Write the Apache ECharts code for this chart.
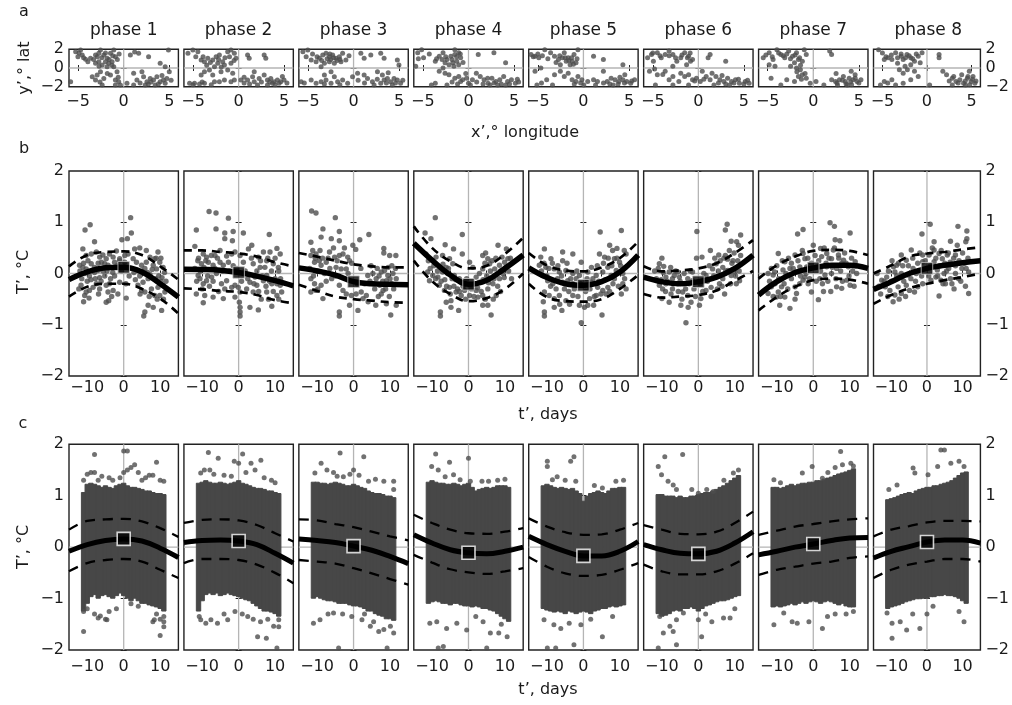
<!DOCTYPE html>
<html>
<head>
<meta charset="utf-8">
<script src="https://cdn.jsdelivr.net/npm/echarts@6/dist/echarts.min.js"></script>
<style>html,body{margin:0;padding:0;background:#fff}#chart{width:1012px;height:705px}</style>
</head>
<body>
<div id="chart"></div>
<script>
// ---------- data ----------
const phases = ['phase 1','phase 2','phase 3','phase 4','phase 5','phase 6','phase 7','phase 8'];

// tick values
const lonTicks = [-5, 0, 5];
const latTicks = [-2, 0, 2];
const dayLabels = [-10, 0, 10];
const dayTicks = [-10, -5, 0, 5, 10];
const tempTicks = [-2, -1, 0, 1, 2];

// (a) event locations, [x' deg lon, y' deg lat]
const aPoints = [
  [[-5.27,1.75],[-4.73,1.93],[-5.02,1.21],[-4.55,1.39],[-4.18,0.93],[-3.93,0.68],[-3.64,1.04],[-3.09,1.39],[-2.73,1.57],[-2.55,1.93],[-2.18,1.39],[-1.82,1.04],[-1.45,1.57],[-1.09,1.93],[-0.91,1.21],[-1.27,0.68],[-1.64,0.5],[-2,0.68],[-2.36,0.32],[-2.73,0.68],[-3.09,0.5],[-1.82,0.14],[-1.09,0.14],[-0.73,-0.39],[-2.55,-0.39],[-2.91,-0.75],[-3.45,-0.93],[-3.09,-1.29],[-2.18,-1.11],[-1.45,-0.75],[-0.91,-1.29],[-0.55,-1.46],[-0.36,-1.82],[-0.91,-1.82],[-2.36,-1.82],[-5.82,-1.46],[0.73,1.39],[1.64,1.57],[2.73,1.21],[4,0.5],[4.55,0.14],[2,-0.39],[1.09,-0.57],[1.45,-1.29],[2.18,-0.93],[2.55,-1.46],[2.91,-1.11],[3.27,-1.29],[3.64,-0.93],[4,-1.46],[4.36,-1.29],[4.73,-1.11],[4.55,-1.64],[3.45,-1.82],[2.36,-1.82],[1.09,-1.82],[0.36,-1.64],[4.91,1.93],
   [-4.9,1.6],[-4.4,1.1],[-3.3,0.9],[-2.9,1.2],[-2.4,1.1],[-2,1.6],[-1.6,0.9],[-1.2,1.3],[-0.7,0.9],[-0.5,1.5],[-2.7,0.2],[-1.3,0.3],[-1.8,-0.6],[-0.6,-1.0],[-2.6,-1.5],[3.0,-1.5],[3.8,-1.7],[4.2,-0.8],[2.7,-1.7],[1.8,-1.6],[5.2,-1.3],[5.0,-0.4],[1.2,1.7]],
  [[-5.56,1.57],[-5.02,1.93],[-4.47,1.75],[-4.11,0.86],[-3.75,0.68],[-3.38,1.04],[-2.84,0.86],[-2.47,1.21],[-2.11,1.39],[-1.75,0.68],[-1.2,1.75],[-0.84,1.93],[-0.47,1.57],[-0.29,1.04],[-0.84,0.5],[-1.56,0.32],[-2.29,0.5],[-2.65,0.14],[-3.2,-0.21],[-3.75,-0.39],[-4.11,-0.75],[-2.84,-0.75],[-1.93,-0.39],[-1.2,-0.21],[-0.65,-0.57],[-0.47,-1.29],[-0.84,-1.46],[0.98,1.39],[1.16,1.04],[2.8,1.39],[2.98,1.04],[-5.38,-1.64],[-4.84,-1.64],[-4.29,-1.71],[-3.75,-1.64],[-2.65,-1.46],[-2.11,-1.46],[-1.56,-1.29],[0.25,-1.29],[0.98,-1.29],[1.53,-0.93],[1.71,-1.46],[2.25,-1.11],[2.8,-0.75],[3.16,-1.29],[3.53,-1.11],[3.89,-1.46],[4.25,-1.29],[4.62,-1.46],[4.98,-1.29],[4.44,-1.64],[3.71,-1.64],[3.16,-1.82],[2.07,-1.82],[1.71,-0.39],
   [-4.7,1.2],[-3.9,1.2],[-3.1,0.6],[-2.2,0.9],[-1.5,1.1],[-1,1.2],[-0.5,0.8],[-1.9,0.1],[-3.5,0.3],[-5,-1.8],[-4,-1.5],[-3,-1.8],[0.6,-1.6],[1.2,-1.7],[2.5,-1.5],[3.4,-1.5],[4,-1.8],[5.3,-1.6],[4.8,-0.9],[0.6,-1.0]],
  [[-5.56,1.75],[-5.02,1.93],[-5.2,1.21],[-4.65,0.86],[-4.11,0.68],[-3.75,1.04],[-3.38,1.39],[-3.02,1.57],[-2.65,1.21],[-2.29,1.39],[-1.93,1.04],[-1.56,1.21],[-1.2,1.57],[-1.38,0.68],[-2.11,0.5],[-2.65,0.68],[-3.2,0.5],[-3.56,0.14],[-0.84,0.86],[0.8,1.57],[1.16,1.04],[1.89,1.39],[2.98,1.57],[3.35,1.04],[4.8,0.86],[4.98,0.32],[-5.75,-1.46],[-4.65,-1.29],[-4.11,-1.64],[-3.56,-1.46],[-3.02,-1.29],[-2.47,-1.64],[-2.11,-0.93],[-1.75,-1.46],[-1.2,-1.29],[-0.65,-1.64],[-0.11,-0.93],[0.44,-0.57],[1.16,-0.75],[1.53,-1.11],[2.07,-1.46],[2.62,-0.39],[3.16,-0.75],[3.35,-1.29],[3.71,-1.11],[4.07,-1.46],[4.44,-1.11],[4.8,-1.29],[5.16,-1.64],[4.25,-1.82],[2.98,-1.64],[2.25,-1.82],[-2.47,-0.39],[-3.2,-0.75],
   [-4.5,1.5],[-4,1.2],[-3.5,0.8],[-2.9,1.0],[-2.5,0.9],[-2.2,1.1],[-1.8,0.8],[-1.5,0.9],[-2.6,1.5],[-0.5,1.3],[-5.4,-1.6],[-3.2,-1.7],[-1.5,-1.8],[0.5,-1.3],[1.2,-1.6],[2.6,-1.2],[3.6,-1.6],[4.6,-1.6],[5.4,-1.3],[3.8,-0.5]],
  [[-5.57,1.64],[-5.14,1.95],[-4.93,1.09],[-3.64,0.73],[-3.21,1.27],[-2.79,1.64],[-2.36,0.91],[-1.93,1.27],[-1.5,1.45],[-1.07,1.64],[-0.86,1.09],[-1.29,0.73],[-1.71,0.55],[-2.14,0.36],[-2.57,0.55],[-1.07,0.36],[-1.5,1.95],[1.07,1.45],[2.79,1.64],[4.07,0.55],[-5.79,0.18],[-3.21,-0.36],[-2.57,-0.55],[-2.14,-0.73],[-1.5,-1.09],[-1.07,-0.91],[-0.86,-1.45],[-0.64,-1.27],[-0.21,-1.09],[0,-1.64],[0.43,-1.27],[0.86,-0.55],[1.29,-0.91],[1.71,-1.27],[2.14,-1.64],[2.57,-1.09],[3,-1.45],[3.43,-1.27],[3.86,-0.91],[4.29,-1.45],[4.71,-1.27],[5.14,-1.64],[5.36,-1.2],[4.07,-1.82],[3.21,-1.82],[2.36,-1.82],[0.21,-1.82],[-2.36,-1.82],[-3.64,-1.64],[-4.07,-1.82],[-2.79,0],
   [-4.3,1.5],[-3.5,1.0],[-2.9,0.9],[-2.5,1.2],[-1.8,0.9],[-1.3,1.2],[-0.9,1.5],[-0.6,0.6],[-1.6,0.2],[-5.5,1.0],[-1.8,-1.5],[-1.2,-1.7],[-0.3,-0.6],[0.9,-1.5],[1.6,-1.7],[2.8,-1.6],[3.6,-1.7],[4.5,-1.7],[5.5,-1.5],[2.1,-1.1]],
  [[-5.74,1.45],[-5.31,1.27],[-4.89,1.09],[-4.24,1.95],[-3.6,1.64],[-3.17,1.27],[-2.74,0.91],[-2.31,1.09],[-2.1,1.64],[-1.67,1.09],[-1.24,0.73],[-1.03,1.45],[-0.6,1.95],[-0.81,0.55],[-1.46,0.36],[-1.89,0.73],[-2.53,0.36],[1.11,1.27],[2.19,0.91],[4.33,0.36],[-5.31,-0.36],[-4.67,0],[-4.03,-1.27],[-3.17,-0.73],[-2.53,-0.36],[-2.1,-0.91],[-1.67,-0.55],[-1.24,-1.27],[-0.81,-1.45],[-0.6,-0.91],[-0.17,-1.27],[0.47,-1.45],[1.11,-1.27],[1.54,-1.45],[2.19,-0.36],[2.61,-1.45],[3.04,-1.09],[3.47,-1.27],[3.9,-1.45],[4.33,-1.27],[4.76,-1.45],[5.19,-1.64],[5.61,-1.27],[3.26,-1.82],[1.33,-1.82],[0.04,-1.82],[-5.1,-1.82],[-3.39,-1.82],[4.54,-0.73],
   [-5.5,1.2],[-5,1.5],[-4.5,1.3],[-3.9,1.0],[-2.6,1.3],[-2.0,1.1],[-1.6,0.8],[-1.3,1.1],[-1.1,0.4],[-0.7,1.0],[-3,0.6],[-4.6,-1.6],[-1,-1.7],[-0.3,-1.6],[2.2,-1.6],[2.9,-1.7],[3.8,-1.7],[4.5,-1.6],[5.3,-1.4],[4.0,-1.0]],
  [[-5.57,1.09],[-5.14,1.45],[-4.93,0.73],[-4.5,1.64],[-4.07,1.09],[-3.64,1.45],[-3.21,1.82],[-2.79,1.45],[-2.36,0.73],[-1.93,1.09],[-1.5,1.64],[-1.07,1.27],[-0.86,0.73],[-1.29,0.36],[-0.64,0.91],[1.07,1.09],[1.29,1.45],[3,0.73],[-5.36,-0.36],[-4.5,-0.73],[-3.64,-0.36],[-3.21,-1.27],[-2.79,-0.91],[-2.14,-1.45],[-1.93,-0.55],[-1.07,-0.73],[-0.64,-1.27],[-0.21,-1.09],[0.21,-1.45],[0.86,-0.91],[1.29,-1.27],[1.5,-0.55],[1.93,-0.91],[2.36,-1.27],[2.79,-1.45],[3.21,-1.09],[3.64,-1.45],[4.07,-1.27],[4.5,-1.64],[5.14,-1.45],[5.57,-1.64],[3.43,-1.82],[1.71,-1.82],[-1.07,-1.82],[-2.79,-1.82],[-4.71,-1.82],[0.43,-0.36],
   [-5,1.6],[-4.2,1.3],[-3.2,1.3],[-2.5,1.1],[-1.8,1.4],[-1.2,1.1],[-0.9,1.6],[-2.8,0.2],[-4.8,-0.1],[-3.9,-0.7],[-1.5,-0.9],[-0.4,-1.4],[0.6,-1.2],[2.2,-1.6],[3,-1.7],[3.9,-1.6],[4.4,-1.2],[5,-1.7],[5.4,-1.3],[2.6,-0.8]],
  [[-5.49,1.09],[-4.84,1.64],[-4.41,0.91],[-3.99,1.95],[-3.56,1.45],[-3.13,1.09],[-2.7,1.82],[-2.27,1.27],[-1.84,1.64],[-1.63,0.91],[-2.06,0.55],[-2.49,0.18],[-1.84,0],[-1.41,-0.18],[-0.99,1.95],[-0.77,1.45],[-1.2,0.73],[1.8,1.82],[2.01,1.45],[-1.2,-0.73],[-0.77,-1.09],[-1.63,-0.91],[-2.06,-1.45],[-2.91,-1.27],[-3.56,-1.82],[-4.63,-1.09],[-0.34,-1.64],[0.3,-1.45],[2.01,-1.27],[2.44,-1.45],[2.87,-1.27],[3.3,-0.91],[3.51,-1.45],[3.94,-1.09],[4.16,-0.36],[4.37,-1.27],[4.59,-0.73],[4.8,-1.45],[5.23,-1.27],[3.73,-1.82],[2.66,-1.82],[1.16,-1.82],[-4.2,0.18],[-4.84,0.36],
   [-5.2,1.4],[-4.5,1.2],[-3.8,1.6],[-3.3,1.3],[-2.9,1.5],[-2.5,1.0],[-2.0,1.4],[-1.5,1.1],[-1.4,0.3],[-1.8,-0.4],[-0.9,-0.6],[-1.3,-1.2],[2.6,-1.6],[3.2,-1.3],[3.6,-1.7],[4.1,-1.5],[4.6,-1.1],[5.0,-1.6],[4.2,-1.8],[2.5,-0.6]],
  [[-5.43,1.95],[-4.79,0.91],[-4.37,1.09],[-3.94,0.91],[-3.52,1.64],[-2.88,1.27],[-2.67,0.91],[-2.25,1.45],[-1.82,1.09],[-1.4,0.73],[-0.98,1.27],[-0.55,1.64],[-0.76,0.55],[-1.82,0.36],[-2.46,0.18],[-3.1,-0.18],[-2.67,-0.55],[-1.4,-0.36],[1.36,1.45],[1.36,1.09],[-4.79,-1.45],[-3.94,-1.27],[-2.67,-1.64],[-1.82,-1.27],[-0.98,-0.91],[1.78,-0.36],[2.2,-0.73],[2.84,-1.09],[3.26,-1.45],[3.69,-1.27],[3.9,-0.73],[4.11,-1.64],[4.54,-1.09],[4.75,-0.36],[4.96,-1.45],[5.17,-0.91],[5.38,-1.64],[4.32,-1.82],[2.84,-1.82],[0.3,-1.82],[-5.22,-1.82],[-3.52,-1.82],
   [-5,1.6],[-4.6,1.2],[-4,1.4],[-3.3,1.1],[-2.9,1.5],[-2.4,1.1],[-2,1.3],[-1.6,1.0],[-1.2,1.5],[-3.3,0.5],[-2.2,-0.2],[-4.4,-1.6],[2.5,-1.4],[3,-0.9],[3.5,-1.6],[4.3,-1.4],[4.6,-0.9],[5.1,-1.2],[5.5,-1.4],[4.8,-1.8]]
];

// (b) single-site anomalies, [t' days, T' degC]
const bPoints = [
  [[-9.2,0.95],[-10.6,0.85],[-8,0.62],[1.9,1.09],[2.1,0.79],[1,0.68],[-0.5,0.66],[-11.2,0.48],[-10.3,0.35],[-8.9,0.38],[-7.5,0.42],[-6.6,0.32],[-5.7,0.36],[-4.8,0.29],[-3.9,0.38],[-2.9,0.32],[-2,0.44],[-1.1,0.29],[0.3,0.35],[1.2,0.38],[2.6,0.29],[3,0.48],[4.4,0.5],[6.2,0.45],[7.2,0.32],[8.5,0.29],[9.4,0.42],[9.9,0.22],[10.8,0.12],[9,0.09],[6.2,0.22],[4.9,0.16],[3.9,0.06],[3.5,0.22],[8.1,0.16],[-12.1,0.16],[-11.2,0.12],[-10.3,0.09],[-8.9,0.19],[-8,0.12],[-7.1,0.06],[-6.1,0.22],[-5.2,0.19],[-4.3,0.16],[-3.4,0.12],[-2.5,0.22],[-1.1,0.25],[0.3,0.22],[-11.7,-0.23],[-10.3,-0.36],[-10.7,-0.43],[-9.4,-0.33],[-8.4,-0.27],[-7.5,-0.2],[-6.6,-0.3],[-4.8,-0.23],[-3.9,-0.2],[-4.3,-0.36],[-2.9,-0.33],[-1.6,-0.4],[-4.8,-0.56],[-4.1,-0.53],[-1.1,-0.17],[0.6,-0.2],[0.7,-0.48],[3.9,-0.23],[4.9,-0.33],[5.8,-0.36],[5.3,-0.17],[6.7,-0.1],[7.6,-0.3],[8.5,-0.43],[9.4,-0.27],[9.9,-0.43],[10.8,-0.23],[11.3,-0.36],[11.7,-0.3],[6.7,-0.62],[8.1,-0.66],[5.8,-0.75],[5.5,-0.83],[10.4,-0.72],[-10.7,0.0],[-9.4,-0.05],[-8,0.02],[-6.6,-0.08],[-5.7,0.05],[-2.5,-0.05],[2.1,0.1],[4.4,-0.05],[7.2,-0.02],[8.8,-0.1],[10.2,-0.15],
   [-12,0.05],[-11.5,-0.1],[-11,0.2],[-10,-0.15],[-9.8,0.25],[-9,-0.12],[-8.5,0.05],[-7.8,-0.1],[-7,0.2],[-6.2,-0.15],[-5.2,-0.05],[-4.6,0.05],[-3.6,-0.1],[-3,0.02],[-1.8,0.15],[-0.6,0.05],[1.5,-0.05],[2.8,0.02],[3.2,-0.12],[5,0.05],[5.8,0.1],[6.5,0.02],[7.8,0.08],[9.6,-0.05],[10.5,-0.08],[11.2,0.02],[11.6,-0.15],[8.9,0.3],[10.2,0.3],[-12.3,-0.3],[-11,-0.55],[-9.5,-0.48],[-6.9,-0.4],[-3.3,-0.45],[9.2,-0.5],[10.9,-0.5],[7,-0.45],[4.5,-0.4]],
  [[-8.1,1.21],[-6.2,1.18],[-2.8,1.08],[-11.6,0.85],[-6.2,0.87],[-3.8,0.79],[-1.5,0.82],[1.3,0.79],[-1.7,0.64],[-3.8,0.68],[8.4,0.76],[-12,0.53],[-9.7,0.38],[-8.8,0.32],[-6.5,0.35],[-5.1,0.45],[-3.3,0.34],[-1.9,0.38],[-1,0.42],[0.4,0.35],[2.7,0.48],[3.6,0.55],[6.8,0.42],[8.6,0.42],[10.5,0.49],[11.4,0.38],[5.4,0.32],[7.7,0.25],[-11.2,0.25],[-10.2,0.19],[-8.3,0.22],[-7,0.16],[-5.1,0.22],[-4.2,0.16],[-2.8,0.22],[1.3,0.22],[4,0.19],[5.9,0.12],[9.5,0.19],[10.9,0.12],[-11.1,-0.04],[-10.6,-0.1],[-9.7,-0.2],[-8.8,-0.14],[-7.4,-0.07],[-6.1,0],[-4.7,-0.2],[-3.3,-0.14],[-1.9,-0.27],[-1,-0.23],[-0.1,-0.27],[0.4,-0.36],[2.2,-0.3],[3.1,-0.17],[4.5,-0.07],[5,-0.23],[6.8,-0.14],[7.7,-0.04],[9.1,-0.2],[10,-0.1],[11.4,-0.23],[11.8,-0.36],[10.5,-0.43],[-9.3,-0.43],[-9.7,-0.57],[-11.6,-0.4],[-7,-0.46],[-4.2,-0.49],[-1,-0.46],[0.2,-0.56],[0.4,-0.66],[0.4,-0.75],[0.4,-0.83],[3.1,-0.66],[5.4,-0.71],[9.1,-0.64],[7.7,-0.36],[4,-0.36],
   [-12,0.1],[-11.5,-0.15],[-11,0.3],[-10.5,0.05],[-10,-0.3],[-9.5,0.12],[-9,0.25],[-8.5,-0.05],[-8,-0.25],[-7.5,0.35],[-7,-0.15],[-6.5,0.1],[-5.5,-0.35],[-5.8,0.3],[-4.5,0.05],[-3.8,-0.3],[-2.5,0.05],[-1.5,0.15],[-0.5,0.1],[0.8,-0.15],[1.8,0.05],[2.5,-0.1],[3.5,0.3],[4.2,-0.2],[5,0.05],[5.5,-0.35],[6,0.25],[6.5,-0.05],[7.2,0.12],[7.5,-0.25],[8,0.3],[8.5,-0.15],[9,0.05],[9.5,-0.35],[10,0.3],[10.5,-0.2],[11,0.05],[11.5,-0.1],[11,-0.5],[8.2,-0.5],[6.2,-0.5]],
  [[-11.5,1.22],[-10.3,1.18],[-5,1.09],[-8.4,0.87],[-3.9,0.82],[-8.9,0.71],[-6.1,0.68],[-3.9,0.64],[-11.7,0.61],[1.7,0.66],[4.2,0.76],[-0.2,0.55],[0.6,0.47],[8.3,0.49],[8.3,0.4],[9.9,0.35],[11.6,0.35],[-11.7,0.35],[-10.3,0.38],[-9.4,0.25],[-10.7,0.22],[-6.6,0.42],[-5.2,0.32],[-3.9,0.35],[-2.9,0.38],[-1.6,0.32],[-1.1,0.25],[-8.9,0.16],[-7.5,0.22],[-4.8,0.12],[-3.4,0.09],[-2,0.09],[3.9,-0.04],[5.3,0],[6.2,-0.1],[7.6,0.03],[8.5,0.06],[9.4,-0.04],[10.8,0],[11.7,-0.1],[10.4,-0.2],[9,-0.14],[7.2,-0.23],[5.3,-0.2],[-11.7,-0.1],[-10.7,-0.2],[-8.9,-0.23],[-11.7,-0.36],[-10.3,-0.33],[-8.4,-0.49],[-3.9,-0.23],[-2.9,-0.33],[-2,-0.4],[-0.6,-0.43],[-1.1,-0.62],[1.2,-0.72],[0.7,-0.4],[2.1,-0.36],[3.5,-0.43],[6.1,-0.62],[9,-0.59],[10.2,-0.81],[11.7,-0.62],[-3.9,-0.75],[-3.9,-0.83],[7.6,-0.4],[8.1,-0.33],[2.6,-0.49],
   [-12,0.1],[-11.2,0.45],[-11,-0.05],[-10.5,0.3],[-10,0.05],[-9.8,-0.3],[-9.2,0.45],[-8.5,0.3],[-8,0.0],[-7.5,-0.15],[-7,0.3],[-6.5,0.1],[-6,-0.1],[-5.5,0.5],[-5,-0.05],[-4.5,0.25],[-2.5,0.5],[-1.5,0.0],[-0.5,0.2],[1,-0.2],[2,0.1],[3,-0.2],[4.5,-0.15],[4.8,0.15],[5.8,-0.3],[6.5,0.1],[7,-0.05],[8,-0.15],[8.8,-0.3],[9.5,0.12],[10,-0.1],[10.5,0.15],[11,-0.3],[11.5,0.1],[6.8,-0.45],[9.8,-0.45],[4,-0.55]],
  [[-9.1,1.09],[-1.7,0.76],[-11.9,0.79],[-10.3,0.68],[-6.4,0.56],[-4.1,0.48],[-1.7,0.38],[-11.7,0.38],[-8.9,0.32],[-7.1,0.35],[-5.2,0.29],[-4.3,0.19],[-6.1,0.12],[-11.2,0.03],[-9.8,-0.04],[-10.7,-0.14],[-8.4,-0.07],[-7.1,0.03],[-5.7,0],[-3.9,-0.04],[-2.5,-0.1],[-8,-0.23],[-6.6,-0.33],[-5.2,-0.27],[-3.4,-0.36],[-2,-0.43],[-1.1,-0.33],[-4.8,-0.53],[-6.1,-0.56],[-2.7,-0.72],[-4.8,-0.66],[-7.7,-0.75],[-7.7,-0.83],[2.1,-0.07],[3,-0.17],[3.9,0.35],[4.7,0.4],[5.3,0.29],[5.8,0.19],[3.9,0.09],[7.2,0.09],[8.1,0.55],[10.4,0.48],[10.8,0.29],[9.4,0],[8.5,-0.1],[6.7,-0.2],[5.3,-0.3],[3.9,-0.43],[2.6,-0.46],[3.9,-0.62],[5.3,-0.62],[6.2,-0.81],[7.6,-0.43],[2.1,-0.33],[0.3,-0.43],[1.2,0.12],[0.3,0.22],[8.5,0.16],[9.9,0.22],
   [-11,0.25],[-10.5,0.1],[-9.5,0.15],[-9,-0.1],[-8.5,0.05],[-7.5,-0.15],[-7,0.18],[-6.5,-0.12],[-6,-0.25],[-5.5,0.1],[-5,-0.4],[-4.5,-0.1],[-4,-0.25],[-3.5,-0.12],[-3,-0.3],[-2.5,-0.35],[-1.5,-0.25],[-0.8,-0.5],[-0.5,-0.1],[0.8,-0.3],[1.5,-0.45],[1.8,-0.2],[2.5,-0.28],[3,0.0],[3.5,-0.35],[4,-0.12],[4.5,0.2],[5,-0.05],[5.5,-0.18],[6,0.05],[6.5,0.25],[7,-0.1],[7.5,0.3],[8,-0.25],[8.8,0.05],[9.2,0.32],[9.8,-0.08],[10.2,0.12],[11,0.05],[11.5,0.3],[11.8,-0.1],[6.8,-0.5],[4.6,-0.5],[8.8,-0.35]],
  [[4.6,0.81],[10.4,0.84],[7.2,0.55],[9.2,0.49],[-10.7,0.48],[-5.7,0.42],[-2.9,0.38],[-11.7,0.32],[-8.9,0.29],[-5.7,0.25],[-0.6,0.22],[4.4,0.38],[5.8,0.32],[8.5,0.29],[9.9,0.22],[11.7,0.38],[-12.1,0.16],[-10.3,0.12],[-8,0.09],[-6.6,0.03],[-4.8,0.06],[-2.9,0],[-1.1,-0.04],[1.2,0.03],[2.6,-0.1],[3.5,-0.04],[5.3,0.03],[6.7,0.12],[7.6,-0.04],[9,0.06],[10.8,0],[11.3,-0.1],[-11.2,-0.04],[-9.8,-0.14],[-8.4,-0.2],[-7.1,-0.1],[-5.7,-0.17],[-4.3,-0.14],[-2.9,-0.2],[-2,-0.1],[2.1,-0.17],[3.9,-0.27],[5.3,-0.33],[6.7,-0.27],[8.1,-0.2],[10.4,-0.4],[11.7,-0.3],[-10.7,-0.36],[-9.4,-0.43],[-8,-0.49],[-6.6,-0.43],[-4.8,-0.53],[-2.9,-0.43],[-1.1,-0.62],[0.3,-0.66],[1.7,-0.49],[2.8,-0.62],[-8,-0.66],[-5.9,-0.72],[-10.7,-0.75],[-10.7,-0.83],[5.1,-0.81],[-0.6,-0.96],[6.2,-0.4],[3.5,-0.43],
   [-11.5,0.05],[-10.8,0.2],[-10,-0.05],[-9.5,0.1],[-9,-0.25],[-8.5,0.2],[-7.5,-0.3],[-7,0.15],[-6,-0.05],[-5.2,-0.3],[-4.5,0.2],[-4,-0.35],[-3.5,-0.1],[-2.5,-0.3],[-1.8,0.05],[-1.5,-0.45],[-0.8,-0.2],[0.6,-0.35],[1,-0.1],[1.8,-0.3],[2.2,0.12],[3,-0.45],[3.8,0.15],[4.2,-0.15],[4.8,-0.4],[5.5,0.2],[6,-0.12],[6.8,0.3],[7.2,-0.35],[7.8,0.15],[8.5,-0.1],[9.2,0.3],[9.6,-0.25],[10.2,0.15],[10.8,-0.2],[11.5,0.12],[11.2,0.45],[8,0.45],[-11,-0.55],[-6.5,-0.6],[-3.8,-0.6],[1.2,-0.62]],
  [[-0.4,0.82],[7.9,0.96],[7.4,0.85],[11.6,0.75],[9,0.63],[1,0.32],[5.6,0.36],[7.4,0.35],[11,0.55],[-10.7,0.19],[-9.5,0.14],[-8,0.03],[-6.6,-0.04],[-5.2,-0.07],[-3.9,0],[-2.9,-0.1],[-1.6,-0.14],[2.1,-0.04],[3.9,0.09],[4.9,0.19],[6.7,0.12],[8.1,0.06],[9,-0.04],[10,0.03],[11.3,-0.14],[10.4,-0.2],[-10.7,-0.23],[-9.8,-0.3],[-8.9,-0.2],[-7.1,-0.3],[-5.7,-0.2],[-4.3,-0.36],[-2.9,-0.43],[-2,-0.56],[-2.8,-0.66],[0.3,-0.62],[0.7,-0.49],[2.1,-0.33],[3.5,-0.27],[5.8,-0.2],[7.2,-0.4],[-3.4,-0.96],[-4.8,-0.62],[-8,-0.56],[-10,-0.49],[6.7,-0.1],[9.5,0.25],[-7.1,-0.1],[-8.9,-0.07],[-5.7,0.03],[-1.6,0.03],
   [-12,0.05],[-11.5,-0.1],[-11,0.1],[-10.2,-0.12],[-9.6,0.02],[-9,-0.35],[-8.5,-0.15],[-7.6,0.12],[-7.5,-0.4],[-6.8,-0.2],[-6.2,0.05],[-5.5,-0.35],[-5,-0.15],[-4.5,-0.5],[-4,-0.2],[-3.5,-0.3],[-2.5,-0.2],[-2.2,0.05],[-1.2,-0.3],[-0.8,-0.45],[0.5,-0.2],[1.2,-0.35],[1.5,0.0],[2.5,-0.15],[3,0.15],[3.5,-0.45],[4.2,-0.05],[4.5,0.3],[5.2,-0.3],[5.5,0.05],[6,0.25],[6.5,-0.25],[7,0.3],[7.5,0.05],[8,0.28],[8.5,0.45],[8.8,-0.2],[9.2,0.2],[9.8,0.4],[10.2,-0.05],[10.8,0.25],[11.2,0.05],[11.6,0.35],[10.5,0.62],[3.3,0.45],[-0.5,0.3],[-10,0.3]],
  [[-2.8,0.86],[-4.3,0.77],[0,0.55],[2,0.49],[4.6,0.99],[5.8,0.92],[10.1,0.79],[6,0.66],[7.3,0.64],[-9.6,0.39],[-7.8,0.23],[-6,0.2],[-5,0.36],[-2.8,0.39],[-2.3,0.29],[-3.7,0.13],[-1.8,0.13],[2.3,0.33],[3.7,0.39],[5,0.29],[5.5,0.46],[6.9,0.36],[8.3,0.26],[9.6,0.13],[11.5,0.23],[11.9,0],[3.7,0.13],[6.4,0.1],[7.8,0.2],[-12.4,0],[-11,-0.03],[-10.6,0.03],[-8.3,0.07],[-6.4,0.1],[-4.6,0.03],[-2.3,-0.07],[-1.4,-0.2],[-0.5,-0.36],[1.4,-0.51],[1.8,-0.1],[3.2,-0.03],[5,0],[6.4,-0.26],[7.8,-0.29],[9.2,-0.13],[10.1,-0.23],[-12.4,-0.39],[-11.5,-0.26],[-9.6,-0.36],[-8.7,-0.26],[-10.1,-0.46],[-9.2,-0.62],[-7.8,-0.46],[-6.4,-0.68],[-5,-0.26],[-3.7,-0.2],[-2.8,-0.13],[-4.6,-0.39],
   [-12,-0.15],[-11.5,0.1],[-11,-0.45],[-10.5,-0.2],[-10,0.15],[-9.5,-0.1],[-9,-0.45],[-8.5,0.25],[-8,-0.2],[-7.5,0.0],[-7,-0.3],[-6.8,0.3],[-6,-0.1],[-5.5,0.1],[-5,-0.5],[-4.2,0.25],[-3.5,-0.05],[-3,0.45],[-2,0.0],[-1.5,0.3],[-1,-0.1],[-0.5,0.2],[0.5,0.35],[0.8,-0.15],[1.5,0.25],[2,0.05],[2.5,-0.2],[3,0.5],[3.5,0.2],[4,-0.15],[4.3,0.3],[5.2,0.12],[5.8,0.5],[6.2,-0.1],[7,0.3],[7.5,0.05],[8,-0.15],[8.6,0.4],[9,0.2],[9.8,-0.05],[10.5,0.3],[10.8,0.05],[11.2,-0.25],[11.6,0.15],[4.8,-0.35],[2.8,-0.35]],
  [[0.9,0.96],[-1.4,0.77],[2,0.62],[8.7,0.92],[11.2,0.83],[11.2,0.68],[10.9,0.62],[6.6,0.63],[8,0.36],[-9.4,0.13],[-8.5,0.16],[-7.2,0.36],[-4.4,0.46],[-5.8,0.26],[-3.9,0.1],[-2.6,0.2],[-1.2,0.36],[-1.2,0.23],[2,0.46],[3.4,0.39],[4.3,0.29],[5.7,0.36],[2,0.23],[0.6,0.36],[2.9,0.07],[4.8,0],[6.1,0.1],[8,0],[8.9,-0.1],[9.8,0.1],[11.7,0.03],[11.7,-0.39],[-14,0],[-12.7,-0.13],[-11.3,-0.07],[-11.7,-0.26],[-10.4,-0.33],[-9,-0.42],[-8.1,-0.26],[-7.2,-0.39],[-5.8,-0.23],[-4.9,-0.33],[-3.5,-0.36],[-2.6,-0.26],[-1.2,-0.2],[1.1,-0.13],[2.5,-0.07],[3.9,-0.13],[5.2,-0.2],[6.6,-0.1],[3.4,-0.44],[-7.2,0],[-5.3,-0.03],[-3,0],[-9,0.03],
   [-13.5,-0.25],[-13,-0.4],[-12,-0.15],[-11,-0.45],[-10.8,0.05],[-10,-0.15],[-9.5,-0.55],[-9.8,0.25],[-8.5,-0.05],[-8,0.2],[-7.8,-0.5],[-6.8,0.15],[-6.5,-0.15],[-6,-0.45],[-5.2,0.15],[-4.5,-0.1],[-4,0.3],[-3.2,-0.15],[-2.2,0.05],[-2,0.4],[-1.5,-0.05],[-0.5,0.25],[0.5,-0.05],[1,0.15],[1.5,0.5],[2.5,0.3],[3,-0.05],[3.5,0.15],[4,0.45],[4.5,-0.2],[5,0.2],[5.5,0.05],[6,0.4],[6.5,0.22],[7,-0.2],[7.5,0.3],[8,0.15],[8.5,0.55],[9,0.25],[9.5,-0.15],[10,0.4],[10.5,0.2],[11,0.1],[11.5,0.3],[10.8,-0.25],[7.6,-0.3]]
];

// fitted curves, sampled at fitDays
const fitDays = [-15, -10, -5, 0, 5, 10, 15];
const bFit = [
  [-0.12,0.03,0.11,0.12,0.03,-0.2,-0.46],
  [0.085,0.08,0.065,0.02,-0.05,-0.14,-0.24],
  [0.11,0.05,-0.03,-0.16,-0.2,-0.21,-0.22],
  [0.59,0.26,-0.03,-0.21,-0.13,0.1,0.36],
  [0.11,-0.08,-0.2,-0.23,-0.16,0.03,0.36],
  [-0.07,-0.16,-0.2,-0.16,-0.07,0.1,0.36],
  [-0.42,-0.16,0.02,0.11,0.16,0.16,0.1],
  [-0.31,-0.16,0,0.1,0.16,0.21,0.25]
];
const bUpper = [
  [0.14,0.36,0.42,0.43,0.36,0.14,-0.12],
  [0.45,0.45,0.42,0.39,0.33,0.22,0.14],
  [0.4,0.33,0.25,0.18,0.14,0.12,0.12],
  [0.92,0.5,0.24,0.1,0.15,0.38,0.7],
  [0.4,0.16,0.06,0.04,0.12,0.3,0.62],
  [0.14,0.04,0.06,0.1,0.2,0.4,0.65],
  [-0.1,0.16,0.33,0.44,0.46,0.44,0.36],
  [0,0.16,0.33,0.39,0.42,0.47,0.51]
];
const bLower = [
  [-0.45,-0.26,-0.2,-0.2,-0.3,-0.49,-0.78],
  [-0.29,-0.31,-0.34,-0.36,-0.42,-0.52,-0.58],
  [-0.22,-0.34,-0.45,-0.5,-0.53,-0.56,-0.57],
  [0.25,-0.15,-0.4,-0.54,-0.48,-0.3,0.0],
  [-0.2,-0.46,-0.54,-0.55,-0.5,-0.3,-0.03],
  [-0.4,-0.47,-0.45,-0.42,-0.33,-0.14,0.05],
  [-0.72,-0.46,-0.26,-0.13,-0.1,-0.12,-0.2],
  [-0.59,-0.42,-0.29,-0.2,-0.13,-0.07,0]
];
const cFit = [
  [-0.08,0.05,0.13,0.16,0.12,-0.02,-0.2],
  [0.09,0.13,0.14,0.12,0.05,-0.12,-0.31],
  [0.16,0.13,0.09,0.02,-0.06,-0.18,-0.32],
  [0.24,0.08,-0.05,-0.11,-0.13,-0.08,0],
  [0.21,0.05,-0.08,-0.17,-0.17,-0.08,0.11],
  [0.05,-0.05,-0.12,-0.13,-0.08,0.08,0.3],
  [-0.15,-0.08,0,0.06,0.13,0.18,0.19],
  [-0.21,-0.08,0.01,0.1,0.14,0.14,0.08]
];
const cUpper = [
  [0.34,0.51,0.54,0.55,0.5,0.37,0.2],
  [0.47,0.53,0.54,0.52,0.43,0.27,0.11],
  [0.54,0.52,0.45,0.39,0.3,0.21,0.13],
  [0.63,0.47,0.34,0.27,0.26,0.3,0.37],
  [0.56,0.4,0.29,0.24,0.25,0.34,0.47],
  [0.43,0.34,0.26,0.25,0.3,0.47,0.69],
  [0.24,0.32,0.4,0.45,0.5,0.54,0.56],
  [0.21,0.34,0.41,0.48,0.51,0.51,0.5]
];
const cLower = [
  [-0.47,-0.31,-0.25,-0.23,-0.28,-0.44,-0.6],
  [-0.31,-0.23,-0.23,-0.25,-0.34,-0.5,-0.7],
  [-0.25,-0.28,-0.32,-0.41,-0.51,-0.62,-0.73],
  [-0.15,-0.3,-0.43,-0.49,-0.52,-0.47,-0.41],
  [-0.19,-0.38,-0.51,-0.56,-0.54,-0.44,-0.31],
  [-0.34,-0.47,-0.53,-0.53,-0.47,-0.32,-0.12],
  [-0.54,-0.44,-0.38,-0.32,-0.28,-0.21,-0.18],
  [-0.6,-0.44,-0.34,-0.28,-0.23,-0.23,-0.28]
];

// (c) all-site anomalies: dense core per day (lowest / highest value) plus scattered extremes
const bandDays = [-11,-10,-9,-8,-7,-6,-5,-4,-3,-2,-1,0,1,2,3,4,5,6,7,8,9,10,11];
const cTop = [
  [1.02,1.18,1.2,1.18,1.15,1.12,1.15,1.12,1.1,1.15,1.18,1.2,1.15,1.12,1.12,1.1,1.08,1.05,1.05,1.02,1.0,1.0,0.98],
  [1.2,1.22,1.25,1.22,1.2,1.2,1.22,1.2,1.18,1.2,1.22,1.25,1.2,1.18,1.15,1.12,1.1,1.1,1.08,1.05,1.05,1.02,1.0],
  [1.22,1.22,1.2,1.2,1.18,1.2,1.22,1.2,1.18,1.15,1.15,1.18,1.15,1.12,1.1,1.05,1.02,1.0,1.0,0.98,0.95,0.95,0.92],
  [1.22,1.25,1.22,1.2,1.2,1.18,1.18,1.2,1.18,1.15,1.18,1.2,1.12,1.05,1.08,1.1,1.12,1.1,1.12,1.15,1.15,1.15,1.12],
  [1.15,1.18,1.15,1.12,1.1,1.12,1.1,1.08,1.1,1.05,1.0,0.85,0.95,1.0,1.02,1.05,1.02,1.0,1.05,1.1,1.1,1.12,1.12],
  [0.98,0.98,0.95,0.95,0.95,0.92,0.95,0.92,0.92,0.95,0.95,0.98,1.0,1.02,1.02,1.05,1.08,1.12,1.15,1.2,1.25,1.3,1.35],
  [1.12,1.12,1.1,1.12,1.15,1.18,1.15,1.18,1.2,1.2,1.22,1.22,1.25,1.25,1.28,1.3,1.32,1.35,1.38,1.4,1.42,1.45,1.48],
  [0.88,0.9,0.92,0.95,0.98,1.0,1.02,1.0,1.05,1.08,1.1,1.12,1.12,1.15,1.15,1.18,1.2,1.22,1.25,1.3,1.35,1.4,1.42]
];
const cBot = [
  [-1.2,-1.05,-0.92,-0.88,-0.95,-0.9,-0.88,-0.92,-0.95,-0.9,-0.85,-0.9,-0.95,-1.0,-0.95,-1.0,-1.05,-1.05,-1.08,-1.1,-1.12,-1.15,-1.2],
  [-1.2,-1.0,-0.88,-0.85,-0.88,-0.85,-0.9,-0.88,-0.85,-0.88,-0.9,-0.92,-0.95,-0.98,-1.0,-1.05,-1.1,-1.15,-1.2,-1.2,-1.22,-1.25,-1.3],
  [-0.95,-0.92,-0.95,-0.98,-1.0,-1.0,-1.02,-1.05,-1.05,-1.05,-1.08,-1.1,-1.1,-1.12,-1.15,-1.2,-1.2,-1.25,-1.28,-1.3,-1.35,-1.35,-1.38],
  [-1.05,-1.02,-1.0,-1.02,-1.05,-1.05,-1.08,-1.05,-1.05,-1.08,-1.1,-1.1,-1.12,-1.1,-1.12,-1.15,-1.15,-1.18,-1.2,-1.25,-1.3,-1.35,-1.4],
  [-1.15,-1.18,-1.2,-1.22,-1.2,-1.22,-1.25,-1.2,-1.22,-1.25,-1.22,-1.2,-1.22,-1.25,-1.2,-1.18,-1.15,-1.15,-1.12,-1.1,-1.12,-1.1,-1.08],
  [-1.25,-1.3,-1.28,-1.25,-1.2,-1.18,-1.2,-1.15,-1.15,-1.12,-1.15,-1.2,-1.15,-1.1,-1.08,-1.05,-1.02,-1.0,-1.0,-0.98,-0.95,-0.92,-0.9],
  [-1.12,-1.1,-1.12,-1.1,-1.08,-1.05,-1.08,-1.05,-1.02,-1.05,-1.02,-1.0,-1.02,-1.05,-1.02,-1.0,-1.02,-1.05,-1.08,-1.05,-1.1,-1.12,-1.12],
  [-1.15,-1.12,-1.1,-1.08,-1.05,-1.02,-1.0,-0.98,-0.96,-0.96,-0.95,-0.95,-0.92,-0.92,-0.9,-0.9,-0.88,-0.9,-0.9,-0.92,-0.95,-1.0,-1.05]
];
const cOutliers = [
  [[-11,1.3],[-10,1.42],[-9,1.45],[-8,1.8],[-8,1.45],[-7,1.3],[-6,1.38],[-4,1.35],[-3,1.3],[-1,1.35],[0,1.45],[0,1.87],[1,1.87],[1,1.5],[2,1.55],[3,1.6],[4,1.45],[5,1.3],[6,1.35],[7,1.4],[8,1.4],[9,1.65],[10,1.3],[11,1.28],[-11,-1.25],[-11,-1.64],[-10,-1.2],[-8,-1.3],[-7,-1.38],[-6.4,-1.34],[-5,-1.4],[-4.6,-1.41],[-4,-1.25],[-2,-1.2],[2,-1.1],[4,-1.15],[8,-1.45],[8.4,-1.41],[9,-1.3],[10,-1.4],[11,-1.35],[11,-1.55],[10,-1.72],[11,-1.45]],
  [[-8.3,1.84],[-10.4,1.44],[-9.4,1.5],[-7.9,1.5],[-6.8,1.42],[-5.6,1.73],[-4,1.4],[-2,1.38],[-1.2,1.67],[0,1.63],[1.1,1.81],[2,1.45],[3.4,1.63],[4.5,1.5],[6.1,1.69],[7,1.35],[9,1.3],[10,1.25],[-10.8,-1.35],[-10.4,-1.41],[-9,-1.48],[-7.6,-1.41],[-5.8,-1.48],[-4,-1.3],[-3,-1.41],[-1,-1.25],[1,-1.3],[2.5,-1.35],[4,-1.4],[5.2,-1.74],[6,-1.45],[7.6,-1.77],[8,-1.4],[9.6,-1.54],[10.5,-1.96],[11,-1.41],[11,-1.55]],
  [[-3.7,1.83],[-8.9,1.63],[-7.3,1.5],[-10.6,1.44],[-5.5,1.45],[-4.5,1.38],[-2.8,1.37],[-1,1.42],[0,1.5],[1.5,1.4],[2.8,1.76],[4.1,1.28],[6,1.32],[8.3,1.28],[11,1.28],[11,1.12],[-11,-1.48],[-9.2,-1.41],[-7,-1.3],[-5.5,-1.28],[-3,-1.3],[-0.5,-1.35],[2.3,-1.41],[4.6,-1.54],[6.9,-1.64],[8.3,-1.6],[10.1,-1.54],[11,-1.67],[-4.1,-1.96],[9.2,-1.96],[3,-1.3],[5.5,-1.45]],
  [[-9,1.81],[-5.2,1.65],[0,1.73],[-10.1,1.57],[-8.3,1.5],[-6.4,1.37],[-4.1,1.41],[-2.3,1.31],[0.5,1.28],[3.7,1.28],[5.5,1.28],[8,1.3],[10,1.32],[-10.6,-1.48],[-8.7,-1.45],[-6,-1.58],[-3.2,-1.48],[-0.5,-1.61],[2,-1.35],[5,-1.96],[6,-1.67],[8.3,-1.67],[10.6,-1.74],[-8.3,-1.96],[-6.9,-1.93],[4,-1.45],[9,-1.5]],
  [[-9.9,1.67],[-9.9,1.57],[-2.6,1.76],[-3.5,1.67],[-8.5,1.31],[-7.2,1.37],[-5,1.3],[-2.1,1.28],[3,1.2],[5.2,1.15],[8.9,1.28],[11,1.3],[-10.8,-1.41],[-8.1,-1.51],[-6.2,-1.58],[-3.9,-1.48],[-0.7,-1.51],[2,-1.4],[5.2,-1.74],[-9.9,-1.96],[-7.6,-1.96],[-2.6,-1.9],[8,-1.35]],
  [[-9.2,1.76],[-4.3,1.8],[-11,1.57],[-10.1,1.41],[-8.3,1.28],[-6.9,1.21],[-6,1.12],[-1.8,1.12],[0,1.05],[2.3,1.12],[4.1,1.08],[7,1.3],[9.6,1.44],[11,1.5],[-10.6,-1.35],[-9.6,-1.67],[-7.8,-1.54],[-6,-1.41],[-6.9,-1.64],[-4.1,-1.28],[0,-1.41],[0.9,-1.74],[3.7,-1.45],[6.9,-1.38],[8.7,-1.38],[-11,-1.96],[-6,-1.9],[2,-1.3],[10,-1.2]],
  [[-10.8,1.31],[-9,1.25],[-3,1.44],[-0.3,1.57],[2.5,1.34],[4,1.45],[6,1.55],[7.5,1.86],[8,1.6],[10.3,1.63],[11,1.58],[-10.8,-1.51],[-8.1,-1.28],[-5.8,-1.45],[-4.4,-1.48],[-1.2,-1.45],[2.5,-1.58],[3.9,-1.35],[6,-1.3],[9,-1.3],[11,-1.25]],
  [[-10.7,1.12],[-8.4,1.21],[-3.9,1.54],[-3.4,1.44],[0.3,1.41],[3,1.57],[3.9,1.89],[4.9,1.89],[6.7,1.63],[9,1.67],[10.4,1.57],[-11.2,-1.28],[-9.8,-1.48],[-7.5,-1.45],[-5.7,-1.61],[-2,-1.58],[1.7,-1.15],[-9.8,-1.77],[9,-1.25],[10.4,-1.45],[-4,-1.3],[0,-1.3]]
];

// ---------- layout ----------
const FONT = 'DejaVu Sans';
const INK = '#1a1a1a';
const DOT = '#4d4d4d';
const colLeft0 = 69, colStep = 114.93, colWidth = 109.4;
const rows = [
  { top: 49.3, height: 37.4, x: [-6, 6], y: [-2, 2], xLab: lonTicks, xTick: lonTicks, yLab: latTicks, yTick: latTicks, xMargin: 7 },
  { top: 171, height: 205, x: [-15, 15], y: [-2, 2], xLab: dayLabels, xTick: dayTicks, yLab: tempTicks, yTick: tempTicks, xMargin: 4 },
  { top: 444.3, height: 205.7, x: [-15, 15], y: [-2, 2], xLab: dayLabels, xTick: dayTicks, yLab: tempTicks, yTick: tempTicks, xMargin: 9 }
];
const fmt = v => (v < 0 ? '\u2212' + Math.abs(v) : String(v));
const labelStyle = { fontFamily: FONT, fontSize: 16, color: INK };

const grid = [], xAxis = [], yAxis = [], series = [];
const pairs = (xs, ys) => xs.map((x, i) => [x, ys[i]]);

rows.forEach((row, r) => {
  for (let c = 0; c < 8; c++) {
    const g = r * 8 + c;
    grid.push({ left: colLeft0 + c * colStep, top: row.top, width: colWidth, height: row.height,
      show: true, borderColor: '#222', borderWidth: 1.4, backgroundColor: 'transparent' });
    const xBase = { gridIndex: g, type: 'value', min: row.x[0], max: row.x[1],
      axisLine: { show: false }, splitLine: { show: false },
      axisTick: { show: true, inside: true, length: 3, customValues: row.xTick, lineStyle: { color: '#222', width: 1 } } };
    xAxis.push(Object.assign({}, xBase, { position: 'bottom',
      axisLabel: Object.assign({ show: true, customValues: row.xLab, formatter: fmt, margin: row.xMargin, showMinLabel: true, showMaxLabel: true }, labelStyle) }));
    xAxis.push(Object.assign({}, xBase, { position: 'top', axisLabel: { show: false } }));
    const yBase = { gridIndex: g, type: 'value', min: row.y[0], max: row.y[1],
      axisLine: { show: false }, splitLine: { show: false },
      axisTick: { show: true, inside: true, length: 3, customValues: row.yTick, lineStyle: { color: '#222', width: 1 } } };
    yAxis.push(Object.assign({}, yBase, { position: 'left',
      axisLabel: Object.assign({ show: c === 0, customValues: row.yLab, formatter: fmt, margin: 5 }, labelStyle) }));
    yAxis.push(Object.assign({}, yBase, { position: 'right',
      axisLabel: Object.assign({ show: c === 7, customValues: row.yLab, formatter: fmt, margin: 5 }, labelStyle) }));

    const ax = { xAxisIndex: 2 * g, yAxisIndex: 2 * g };
    // zero reference lines
    series.push(Object.assign({ type: 'line', data: [[0, row.y[0]], [0, row.y[1]]], symbol: 'none', silent: true, z: 1,
      lineStyle: { color: '#b5b5b5', width: 1.3 } }, ax));
    series.push(Object.assign({ type: 'line', data: [[row.x[0], 0], [row.x[1], 0]], symbol: 'none', silent: true, z: 1,
      lineStyle: { color: '#b5b5b5', width: 1.3 } }, ax));

    if (r === 0) {
      series.push(Object.assign({ type: 'scatter', data: aPoints[c], symbolSize: 5, z: 2,
        itemStyle: { color: DOT } }, ax));
    } else if (r === 1) {
      series.push(Object.assign({ type: 'scatter', data: bPoints[c], symbolSize: 5.4, z: 2,
        itemStyle: { color: DOT } }, ax));
      [[bUpper[c], 'dash'], [bLower[c], 'dash'], [bFit[c], 'fit']].forEach(([vals, kind]) => {
        series.push(Object.assign({ type: 'line', data: pairs(fitDays, vals), symbol: 'none', smooth: 0.4, z: 3, silent: true,
          lineStyle: kind === 'fit' ? { color: '#000', width: 5.5 } : { color: '#000', width: 2.7, type: [8, 6] } }, ax));
      });
      series.push(Object.assign({ type: 'scatter', data: [[0, bFit[c][3]]], symbol: 'rect', symbolSize: 11.5, z: 5,
        itemStyle: { color: '#000', borderColor: '#c8c8c8', borderWidth: 1 } }, ax));
    } else {
      series.push(Object.assign({ type: 'custom', z: 2, clip: true,
        data: bandDays.map((t, i) => [t, cBot[c][i], cTop[c][i]]),
        encode: { x: 0, y: [1, 2] },
        renderItem: (params, api) => {
          const t = api.value(0), lo = api.value(1), hi = api.value(2);
          const p1 = api.coord([t - 0.6, hi]);
          const p2 = api.coord([t + 0.6, lo]);
          return { type: 'rect', shape: { x: p1[0], y: p1[1] - 2.2, width: p2[0] - p1[0], height: p2[1] - p1[1] + 4.4 },
            style: { fill: '#474747', stroke: '#474747', lineWidth: 1 } };
        } }, ax));
      series.push(Object.assign({ type: 'scatter', data: cOutliers[c], symbolSize: 5, z: 2,
        itemStyle: { color: DOT } }, ax));
      [[cUpper[c], 'dash'], [cLower[c], 'dash'], [cFit[c], 'fit']].forEach(([vals, kind]) => {
        series.push(Object.assign({ type: 'line', data: pairs(fitDays, vals), symbol: 'none', smooth: 0.4, z: 3, silent: true,
          lineStyle: kind === 'fit' ? { color: '#000', width: 5 } : { color: '#000', width: 2.3, type: [10, 8] } }, ax));
      });
      series.push(Object.assign({ type: 'scatter', data: [[0, cFit[c][3]]], symbol: 'rect', symbolSize: 13, z: 5,
        itemStyle: { color: '#000', borderColor: '#fff', borderWidth: 1.6 } }, ax));
    }
  }
});

// text: titles, panel letters, axis names
const txt = (x, y, text, extra, size) => Object.assign({ type: 'text', x, y,
  style: { text, fill: INK, font: (size || 16) + 'px "' + FONT + '"', align: 'center', verticalAlign: 'middle' } }, extra || {});
const graphic = [];
phases.forEach((p, c) => graphic.push(txt(colLeft0 + c * colStep + colWidth / 2, 31, p, null, 17)));
graphic.push(txt(24, 12, 'a'), txt(24, 149, 'b'), txt(23, 424, 'c'));
graphic.push(txt(525, 133, 'x\u2019,\u00b0 longitude'));
graphic.push(txt(548, 415, 't\u2019, days'), txt(548, 690, 't\u2019, days'));
graphic.push(txt(25, 68, 'y\u2019,\u00b0 lat', { rotation: Math.PI / 2 }));
graphic.push(txt(24, 272, 'T\u2019, \u00b0C', { rotation: Math.PI / 2 }));
graphic.push(txt(24, 547, 'T\u2019, \u00b0C', { rotation: Math.PI / 2 }));

const chart = echarts.init(document.getElementById('chart'), null, { renderer: 'canvas' });
chart.setOption({ animation: false, backgroundColor: '#fff', grid, xAxis, yAxis, series, graphic });
</script>
</body>
</html>
